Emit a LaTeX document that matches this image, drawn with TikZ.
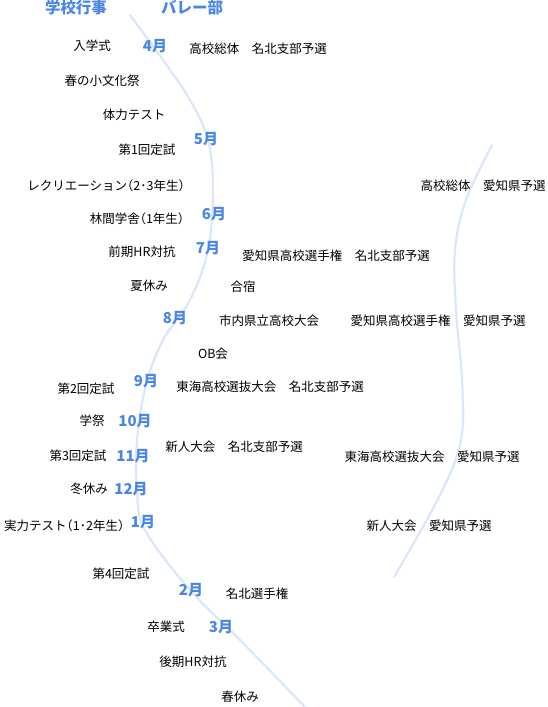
\documentclass[tikz,border=0pt]{standalone}
\usepackage{fontspec}
\setmainfont{Noto Sans CJK JP}
\usepackage{tikz}
\usetikzlibrary{positioning}
\usepackage{xcolor}
\definecolor{monthblue}{RGB}{74,134,232}
\definecolor{pathblue}{RGB}{218,230,250}
% narrow brackets
\newcommand{\jlpar}{{\addfontfeature{RawFeature=+halt}（}}
\newcommand{\jrpar}{{\addfontfeature{RawFeature=+halt}）}}

\tikzset{
  event/.style={font=\fontsize{12.5}{14}\selectfont, inner sep=0pt},
  month/.style={font=\fontsize{15}{17}\selectfont\bfseries, text=monthblue, inner sep=0pt},
  header/.style={font=\fontsize{15.5}{18}\selectfont\bfseries, text=monthblue, inner sep=0pt},
  timeline/.style={draw=pathblue, line width=2.2pt, line cap=round}
}

\begin{document}
\begin{tikzpicture}[x=1pt, y=-1pt]
    \useasboundingbox (0,0) rectangle (547,707);
    % the two time lines
    \draw[timeline] plot[smooth, tension=0.6] coordinates
      {(130,15) (163,60) (190,100) (208,140) (213,190) (208,250)
       (190,300) (163,340) (146,385) (137,440) (137,490) (145,530)
       (190,590) (240,640) (305,707)};
    \draw[timeline] plot[smooth, tension=0.6] coordinates
      {(492,145) (466,200) (455,250) (456,310) (462,380) (461,440)
       (440,495) (394,577)};
    % headers
    \node[header] (school) at (76,8) {学校行事};
    \node[header] (club) at (192,8) {バレー部};
    % months
    \node[month] (m4) at (155,46) {4月};
    \node[month] (m5) at (206,139) {5月};
    \node[month] (m6) at (214,214) {6月};
    \node[month] (m7) at (208,248) {7月};
    \node[month] (m8) at (175,318) {8月};
    \node[month] (m9) at (146,381) {9月};
    \node[month] (m10) at (135,421) {10月};
    \node[month] (m11) at (133,456) {11月};
    \node[month] (m12) at (131,489) {12月};
    \node[month] (m1) at (143,522) {1月};
    \node[month] (m2) at (191,590) {2月};
    \node[month] (m3) at (221,627) {3月};
    % school events
    \node[event] (nyugaku) at (92,46) {入学式};
    \node[event] (bunka) at (102,81) {春の小文化祭};
    \node[event] (tairyoku) at (134,115) {体力テスト};
    \node[event] (teishi1) at (147,150) {第1回定試};
    \node[event, anchor=east] (recre) at (185,186) {レクリエーション\jlpar 2･3年生\jrpar};
    \node[event] (rinkan) at (137,219) {林間学舎\jlpar 1年生\jrpar};
    \node[event] (hrzen) at (142,252) {前期HR対抗};
    \node[event] (natsu) at (149,286) {夏休み};
    \node[event] (teishi2) at (86,389) {第2回定試};
    \node[event] (gakusai) at (92,421) {学祭};
    \node[event] (teishi3) at (78,456) {第3回定試};
    \node[event] (fuyu) at (89,489) {冬休み};
    \node[event, anchor=west] (jitsuryoku) at (4,526) {実力テスト\jlpar 1･2年生\jrpar};
    \node[event] (teishi4) at (121,574) {第4回定試};
    \node[event] (sotsugyo) at (166,627) {卒業式};
    \node[event] (hrko) at (193,662) {後期HR対抗};
    \node[event] (haru) at (240,697) {春休み};
    % club events
    \node[event] (soutai1) at (258,49) {高校総体　名北支部予選};
    \node[event] (soutai2) at (483,186) {高校総体　愛知県予選};
    \node[event] (senshu1) at (336,256) {愛知県高校選手権　名北支部予選};
    \node[event] (gasshuku) at (243,287) {合宿};
    \node[event] (shinai) at (269,321) {市内県立高校大会};
    \node[event] (senshu2) at (438,321) {愛知県高校選手権　愛知県予選};
    \node[event] (obkai) at (213,354) {OB会};
    \node[event] (tokai1) at (270,387) {東海高校選抜大会　名北支部予選};
    \node[event] (shinjin1) at (234,447) {新人大会　名北支部予選};
    \node[event] (tokai2) at (432,457) {東海高校選抜大会　愛知県予選};
    \node[event] (shinjin2) at (429,526) {新人大会　愛知県予選};
    \node[event] (meihoku) at (257,594) {名北選手権};
  \end{tikzpicture}
\end{document}
